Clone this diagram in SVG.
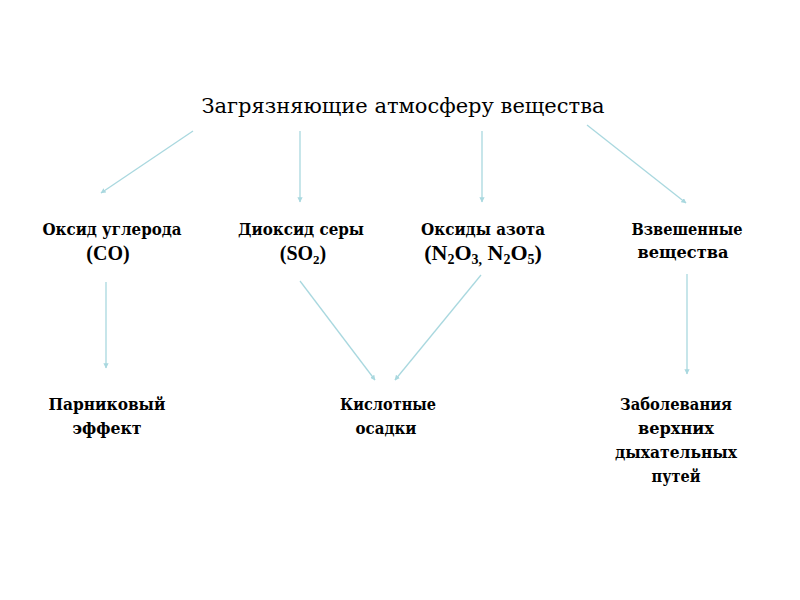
<svg xmlns="http://www.w3.org/2000/svg" width="800" height="600" viewBox="0 0 800 600">
<style>
text{font-family:'Liberation Serif','Times New Roman',serif;fill:#000;text-anchor:middle}
.cy{font-family:'DejaVu Serif','Liberation Serif',serif}
.title{font-size:21px}
.n{font-size:16px;font-weight:bold}
.f{font-size:20px;font-weight:bold}
.b{font-size:17px;font-weight:bold}
.c line{stroke:#a9d8df;stroke-width:1.3;fill:none;marker-end:url(#ah)}
</style>
<defs>
<marker id="ah" viewBox="0 0 10 10" refX="9" refY="5" markerWidth="4" markerHeight="4" orient="auto" markerUnits="strokeWidth">
<path d="M0,0 L10,5 L0,10 z" fill="#a9d8df"/>
</marker>
</defs>
<rect width="800" height="600" fill="#fff"/>
<g id="title"><text class="title cy" x="403" y="113" textLength="403" lengthAdjust="spacingAndGlyphs">Загрязняющие атмосферу вещества</text></g>
<g id="co"><text class="n cy" x="112" y="235" textLength="139" lengthAdjust="spacingAndGlyphs">Оксид углерода</text><text class="f" x="108" y="260">(CO)</text></g>
<g id="so2"><text class="n cy" x="301" y="235" textLength="126" lengthAdjust="spacingAndGlyphs">Диоксид серы</text><text class="f" x="303" y="260">(SO<tspan font-size="13" dy="4">2</tspan><tspan dy="-4">)</tspan></text></g>
<g id="nox"><text class="n cy" x="483" y="235" textLength="124" lengthAdjust="spacingAndGlyphs">Оксиды азота</text><text class="f" x="483" y="260" style="font-size:22px">(N<tspan font-size="14" dy="4">2</tspan><tspan dy="-4">O</tspan><tspan font-size="14" dy="4">3,</tspan><tspan dy="-4"> N</tspan><tspan font-size="14" dy="4">2</tspan><tspan dy="-4">O</tspan><tspan font-size="14" dy="4">5</tspan><tspan dy="-4">)</tspan></text></g>
<g id="pm"><text class="n cy" x="687" y="235" textLength="111" lengthAdjust="spacingAndGlyphs">Взвешенные</text><text class="n cy" x="683" y="258" textLength="91" lengthAdjust="spacingAndGlyphs">вещества</text></g>
<g id="greenhouse"><text class="b cy" x="107" y="410" textLength="117" lengthAdjust="spacingAndGlyphs">Парниковый</text><text class="b cy" x="107" y="434" textLength="69" lengthAdjust="spacingAndGlyphs">эффект</text></g>
<g id="acid"><text class="b cy" x="388" y="410" textLength="96" lengthAdjust="spacingAndGlyphs">Кислотные</text><text class="b cy" x="386" y="434" textLength="61" lengthAdjust="spacingAndGlyphs">осадки</text></g>
<g id="disease"><text class="b cy" x="676" y="410" textLength="112" lengthAdjust="spacingAndGlyphs">Заболевания</text><text class="b cy" x="676" y="434" textLength="76" lengthAdjust="spacingAndGlyphs">верхних</text><text class="b cy" x="676" y="458" textLength="122" lengthAdjust="spacingAndGlyphs">дыхательных</text><text class="b cy" x="676" y="482" textLength="49" lengthAdjust="spacingAndGlyphs">путей</text></g>
<g class="c" id="connectors">
<line x1="193" y1="131" x2="101" y2="193"/>
<line x1="300" y1="131" x2="300" y2="202"/>
<line x1="482" y1="131" x2="482" y2="202"/>
<line x1="587" y1="125" x2="686" y2="203"/>
<line x1="106" y1="282" x2="106" y2="368"/>
<line x1="300" y1="281" x2="375" y2="380"/>
<line x1="481" y1="275" x2="395" y2="380"/>
<line x1="687" y1="274" x2="687" y2="374"/>
</g>
</svg>
